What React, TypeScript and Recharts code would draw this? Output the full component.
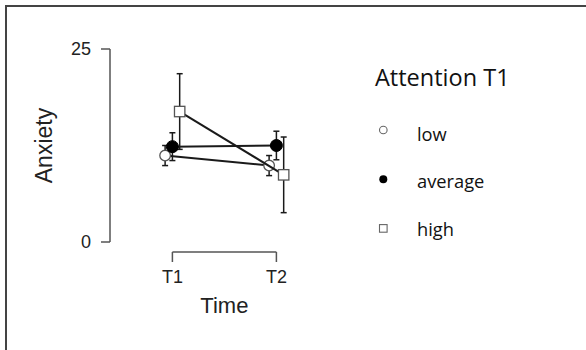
import { ScatterChart, Scatter, XAxis, YAxis, ErrorBar, ComposedChart } from 'recharts'

// anxiety means and error half-widths per attention group, at T1 and T2
const times = ['T1', 'T2']
const groups = ['low', 'average', 'high']
const lowMean = [11.2, 9.9]
const lowErr = [1.3, 1.3]
const avgMean = [12.35, 12.5]
const avgErr = [1.8, 1.85]
const highMean = [16.9, 8.7]
const highErr = [4.9, 4.9]
const yTicks = [0, 25]

const W = 586
const H = 350
const FONT = '"Liberation Sans", Arial, sans-serif'
const AXIS = '#555'
const INK = '#1a1a1a'

// layout: plot box 110..338.8 for x domain [0.4, 2.6] -> 104px per time step
const PLOT_LEFT = 110
const PLOT_TOP = 49
const PLOT_BOTTOM = 242
const X_DOMAIN: [number, number] = [0.4, 2.6]
const UNIT = 104
const PLOT_RIGHT = PLOT_LEFT + (X_DOMAIN[1] - X_DOMAIN[0]) * UNIT
const T1_X = PLOT_LEFT + (1 - X_DOMAIN[0]) * UNIT
const T2_X = T1_X + UNIT
const DODGE = 0.07

const rows = (means: number[], errs: number[], shift: number) =>
  means.map((m, i) => ({ x: i + 1 + shift, y: m, err: errs[i] }))

const lowRows = rows(lowMean, lowErr, -DODGE)
const avgRows = rows(avgMean, avgErr, 0)
const highRows = rows(highMean, highErr, DODGE)
const timeRows = times.map((t, i) => ({ x: i + 1, label: t }))

const OpenCircle = (p: any) => <circle cx={p.cx} cy={p.cy} r={5.3} fill="#fff" stroke="#555" strokeWidth={1.3} />
const FilledCircle = (p: any) => <circle cx={p.cx} cy={p.cy} r={6} fill="#000" stroke="#000" />
const OpenSquare = (p: any) => <rect x={p.cx - 5.2} y={p.cy - 5.2} width={10.4} height={10.4} fill="#fff" stroke="#555" strokeWidth={1.3} />

const lineStyle = { stroke: INK, strokeWidth: 2 }

const YLabel = ({ viewBox }: any) => (
  <text
    x={viewBox.x - 8}
    y={viewBox.y + viewBox.height / 2}
    transform={`rotate(-90 ${viewBox.x - 8} ${viewBox.y + viewBox.height / 2})`}
    textAnchor="middle"
    fontFamily={FONT}
    fontSize={23}
    fill="#222"
  >
    Anxiety
  </text>
)

const legendMarkers = [
  <circle key="l" cx={0} cy={0} r={3.8} fill="#fff" stroke="#666" strokeWidth={1.1} />,
  <circle key="a" cx={0} cy={0} r={4} fill="#000" />,
  <rect key="h" x={-3.8} y={-3.8} width={7.6} height={7.6} fill="#fff" stroke="#666" strokeWidth={1.1} />,
]

export default function App() {
  return (
    <div style={{ position: 'fixed', left: 0, top: 0, width: W, height: H, overflow: 'hidden', background: '#fff' }}>
      {/* frame, only top and left edges show */}
      <div style={{ position: 'absolute', left: 5, top: 5, width: 800, height: 600, borderTop: '2px solid #444', borderLeft: '2px solid #444' }} />

      <div style={{ position: 'absolute', left: 0, top: 0 }}>
        <ScatterChart
          width={W}
          height={H}
          margin={{ top: PLOT_TOP, right: W - PLOT_RIGHT, bottom: H - PLOT_BOTTOM, left: PLOT_LEFT - 50 }}
        >
          <XAxis type="number" dataKey="x" domain={X_DOMAIN} hide />
          <YAxis
            type="number"
            dataKey="y"
            width={50}
            domain={[0, 25]}
            ticks={yTicks}
            interval={0}
            tickSize={9}
            tickMargin={10}
            axisLine={{ stroke: AXIS, strokeWidth: 1.5 }}
            tickLine={{ stroke: AXIS, strokeWidth: 1.5 }}
            tick={{ fill: '#222', fontSize: 18, fontFamily: FONT }}
            label={<YLabel />}
          />
          <Scatter data={lowRows} name={groups[0]} line={lineStyle} shape={<OpenCircle />} isAnimationActive={false}>
            <ErrorBar dataKey="err" direction="y" width={3} stroke={INK} strokeWidth={1.5} isAnimationActive={false} />
          </Scatter>
          <Scatter data={avgRows} name={groups[1]} line={lineStyle} shape={<FilledCircle />} isAnimationActive={false}>
            <ErrorBar dataKey="err" direction="y" width={3} stroke={INK} strokeWidth={1.5} isAnimationActive={false} />
          </Scatter>
          <Scatter data={highRows} name={groups[2]} line={lineStyle} shape={<OpenSquare />} isAnimationActive={false}>
            <ErrorBar dataKey="err" direction="y" width={3} stroke={INK} strokeWidth={1.5} isAnimationActive={false} />
          </Scatter>
        </ScatterChart>
      </div>

      {/* time axis drawn as a bracket between T1 and T2 */}
      <div style={{ position: 'absolute', left: 0, top: 0, pointerEvents: 'none' }}>
        <ComposedChart
          width={W}
          height={H}
          data={timeRows}
          margin={{ top: 0, right: W - T2_X, bottom: 37, left: T1_X }}
        >
          <XAxis
            type="number"
            dataKey="x"
            domain={[1, 2]}
            ticks={[1, 2]}
            interval={0}
            height={61}
            tickSize={10}
            tickMargin={8}
            tickFormatter={(v: number) => times[v - 1]}
            axisLine={{ stroke: AXIS, strokeWidth: 1.5 }}
            tickLine={{ stroke: AXIS, strokeWidth: 1.5 }}
            tick={{ fill: '#222', fontSize: 18, fontFamily: FONT }}
            label={{ value: 'Time', position: 'insideBottom', offset: 0, fill: '#222', fontSize: 22, fontFamily: FONT }}
          />
          <YAxis hide domain={[0, 1]} />
        </ComposedChart>
      </div>

      {/* legend */}
      <svg width={W} height={H} style={{ position: 'absolute', left: 0, top: 0, pointerEvents: 'none' }}>
        <text x={375} y={86} fontFamily='"Open Sans", sans-serif' fontSize={23.5} fill="#111">
          Attention T1
        </text>
        {groups.map((g, i) => (
          <g key={g}>
            <g transform={`translate(383.3 ${130 + i * 49.2})`}>{legendMarkers[i]}</g>
            <text x={417} y={140.5 + i * 47.5} fontFamily='"Open Sans", sans-serif' fontSize={18.3} fill="#111">
              {g}
            </text>
          </g>
        ))}
      </svg>
    </div>
  )
}
